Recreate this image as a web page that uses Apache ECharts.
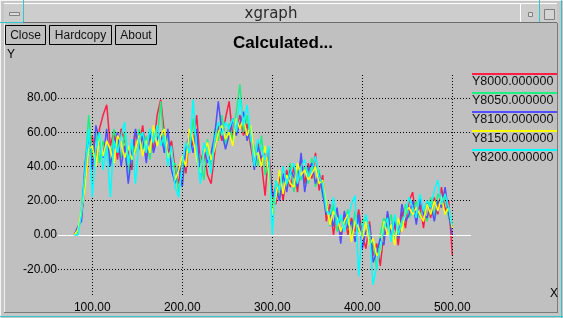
<!DOCTYPE html>
<html>
<head>
<meta charset="utf-8">
<script src="https://cdn.jsdelivr.net/npm/echarts@6/dist/echarts.min.js"></script>
<style>
html,body{margin:0;padding:0;background:#c0c0c0;}
#c{width:563px;height:318px;}
</style>
</head>
<body>
<div id="c"></div>
<script>
// ---- data ----
var xs = [80,84,88,92,96,100,104,108,112,116,
  120,124,128,132,136,140,144,148,152,156,
  160,164,168,172,176,180,184,188,192,196,
  200,204,208,212,216,220,224,228,232,236,
  240,244,248,252,256,260,264,268,272,276,
  280,284,288,292,296,300,304,308,312,316,
  320,324,328,332,336,340,344,348,352,356,
  360,364,368,372,376,380,384,388,392,396,
  400,404,408,412,416,420,424,428,432,436,
  440,444,448,452,456,460,464,468,472,476,
  480,484,488,492,496,500];

var y8000 = [0,4,10,30,48,58,45,62,70,76,
  52,60,44,62,55,48,38,60,52,64,
  45,58,50,70,79,60,48,55,38,30,
  45,36,60,52,70,42,50,35,30,48,
  64,55,68,78,58,62,70,58,65,52,
  40,55,42,23,50,25,18,35,20,38,
  28,40,25,45,30,42,33,48,26,35,
  8,18,0,14,-2,12,0,10,2,15,
  0,-8,8,-12,-5,-18,2,12,-2,6,
  -6,14,4,20,25,8,18,4,20,10,
  22,12,28,14,20,-12];

var y8050 = [0,2,15,40,70,45,60,42,55,48,
  40,62,52,45,60,35,55,48,62,50,
  58,44,62,55,78,50,58,40,42,25,
  38,50,48,68,50,45,32,56,40,62,
  55,70,52,65,55,72,88,60,70,55,
  52,40,58,35,42,15,30,22,32,28,
  42,25,38,32,40,30,45,28,38,22,
  20,5,18,2,10,6,15,-2,14,2,
  8,10,-5,-4,-20,0,10,4,12,-4,
  8,4,18,10,14,20,10,16,8,22,
  10,24,20,22,10,5];

var y8100 = [0,5,8,42,58,38,64,55,45,62,
  40,52,60,40,52,30,48,62,50,58,
  42,60,48,56,60,48,62,38,30,40,
  28,52,58,48,62,32,50,42,48,58,
  78,60,50,58,68,58,65,72,55,62,
  38,52,45,48,38,22,28,20,36,25,
  38,34,28,48,25,38,42,30,36,24,
  12,14,5,16,-5,14,4,8,-4,12,
  -8,2,6,-16,-10,-2,-6,14,0,8,
  -2,18,8,12,20,6,22,12,10,18,
  8,20,16,28,12,0];

var y8150 = [0,3,14,28,50,52,40,58,46,55,
  50,42,58,54,45,52,44,50,58,46,
  55,48,64,52,58,62,45,50,32,38,
  46,40,62,56,44,36,48,54,44,50,
  60,64,56,60,52,68,62,68,58,64,
  46,48,40,52,36,12,22,38,24,35,
  30,28,42,35,38,32,36,40,30,32,
  18,6,14,10,2,8,12,-4,8,4,
  -2,8,-6,-2,-12,-10,8,0,6,-6,
  10,2,14,16,12,16,12,8,18,12,
  20,14,22,12,16,4];

var y8200 = [0,0,12,38,62,22,50,60,38,52,
  22,55,48,58,66,42,56,30,56,60,
  48,62,54,64,52,58,40,52,28,22,
  42,54,48,79,50,30,54,48,36,56,
  66,58,66,62,68,60,80,64,76,58,
  40,56,50,44,52,0,32,26,40,30,
  36,42,30,40,44,34,38,46,34,30,
  14,12,22,6,12,2,10,18,23,-24,
  4,12,2,-29,-18,-8,4,10,-4,12,
  0,8,12,22,16,10,24,14,20,16,
  26,32,18,24,16,6];

var seriesNames = ['Y8000.000000','Y8050.000000','Y8100.000000','Y8150.000000','Y8200.000000'];
var seriesValues = [y8000, y8050, y8100, y8150, y8200];
var xTicks = [100,200,300,400,500];
var yTicks = [-20,0,20,40,60,80];

// ---- styling ----
var colors = ['#ff1f45','#1fef80','#5050ff','#ffff00','#00ffff'];
var FONT = 'Liberation Sans, Arial, sans-serif';

var chart = echarts.init(document.getElementById('c'), null, {renderer:'canvas'});

var series = [];
// grid lines as a background mark layer
var gridLines = [];
xTicks.forEach(function(v){ gridLines.push({xAxis:v}); });
yTicks.forEach(function(v){
  if (v === 0) gridLines.push({yAxis:v, lineStyle:{color:'#ffffff', type:'solid', width:1}});
  else gridLines.push({yAxis:v});
});
series.push({
  type:'line', data:[], z:1, silent:true,
  markLine:{silent:true, symbol:'none', animation:false, label:{show:false},
    lineStyle:{color:'#000', type:[1,2], width:1}, emphasis:{disabled:true},
    data:gridLines}
});
seriesNames.forEach(function(n, k){
  series.push({
    name:n, type:'line', z:2+k, showSymbol:false, symbol:'none', animation:false,
    lineStyle:{color:colors[k], width:1.5}, itemStyle:{color:colors[k]},
    data: xs.map(function(x,i){ return [x, seriesValues[k][i]]; })
  });
});

// window chrome + legend as graphics
var g = [];
// outer frame
g.push({type:'rect', shape:{x:0,y:0,width:563,height:318}, style:{fill:'#c6c6c6'}, z:-10});
g.push({type:'line', shape:{x1:0,y1:0.5,x2:563,y2:0.5}, style:{stroke:'#f4f4f4',lineWidth:1}, z:-9});
g.push({type:'line', shape:{x1:0.5,y1:0,x2:0.5,y2:318}, style:{stroke:'#f4f4f4',lineWidth:1}, z:-9});
// title bar
g.push({type:'rect', shape:{x:4,y:3,width:553,height:19}, style:{fill:'#cdcdcd'}, z:-9});
g.push({type:'line', shape:{x1:4,y1:3.5,x2:557,y2:3.5}, style:{stroke:'#ffffff',lineWidth:1}, z:-8});
g.push({type:'line', shape:{x1:4,y1:22.5,x2:557,y2:22.5}, style:{stroke:'#6e6e6e',lineWidth:1}, z:-8});
g.push({type:'line', shape:{x1:23.5,y1:0,x2:23.5,y2:22}, style:{stroke:'#30c8c8',lineWidth:1}, z:-7});
g.push({type:'line', shape:{x1:0,y1:22.5,x2:23,y2:22.5}, style:{stroke:'#30c8c8',lineWidth:1}, z:-7});
g.push({type:'line', shape:{x1:520.5,y1:3,x2:520.5,y2:22}, style:{stroke:'#ffffff',lineWidth:1}, z:-7});
g.push({type:'line', shape:{x1:539.5,y1:0,x2:539.5,y2:22}, style:{stroke:'#30c8c8',lineWidth:1}, z:-7});
g.push({type:'rect', shape:{x:9.5,y:12.5,width:10,height:3}, style:{fill:'#dcdcdc',stroke:'#808080',lineWidth:1}, z:-7});
g.push({type:'rect', shape:{x:528.5,y:12.5,width:4,height:4}, style:{fill:'#dcdcdc',stroke:'#808080',lineWidth:1}, z:-7});
g.push({type:'rect', shape:{x:544.5,y:9.5,width:10,height:10}, style:{fill:'#d4d4d4',stroke:'#808080',lineWidth:1}, z:-7});
g.push({type:'text', x:271, y:14, style:{text:'xgraph', font:'15px DejaVu Sans, sans-serif', fill:'#2a2a2a', textAlign:'center', textVerticalAlign:'middle'}, z:-6});
// client area
g.push({type:'rect', shape:{x:4,y:23,width:553,height:290}, style:{fill:'#c0c0c0'}, z:-8});
g.push({type:'line', shape:{x1:4.5,y1:23,x2:4.5,y2:313}, style:{stroke:'#f0f0f0',lineWidth:1}, z:-7});
g.push({type:'line', shape:{x1:557.5,y1:23,x2:557.5,y2:313}, style:{stroke:'#7a7a7a',lineWidth:1}, z:-7});
g.push({type:'line', shape:{x1:4,y1:312.5,x2:558,y2:312.5}, style:{stroke:'#7a7a7a',lineWidth:1}, z:-7});
g.push({type:'line', shape:{x1:561.5,y1:0,x2:561.5,y2:318}, style:{stroke:'#30c8c8',lineWidth:1}, z:-7});
g.push({type:'line', shape:{x1:0,y1:316.5,x2:563,y2:316.5}, style:{stroke:'#30c8c8',lineWidth:1}, z:-7});
// buttons
var buttons = [['Close',5.5,40],['Hardcopy',49.5,62],['About',115.5,41]];
buttons.forEach(function(b){
  g.push({type:'rect', shape:{x:b[1],y:25.5,width:b[2],height:19}, style:{fill:'#c0c0c0',stroke:'#000',lineWidth:1}, z:-5});
  g.push({type:'text', x:b[1]+b[2]/2, y:35.5, style:{text:b[0], font:'12px '+FONT, fill:'#111', textAlign:'center', textVerticalAlign:'middle'}, z:-4});
});
// title + axis names
g.push({type:'text', x:283, y:43, style:{text:'Calculated...', font:'bold 17px '+FONT, fill:'#000', textAlign:'center', textVerticalAlign:'middle'}, z:-4});
g.push({type:'text', x:7, y:55, style:{text:'Y', font:'12px '+FONT, fill:'#000', textAlign:'left', textVerticalAlign:'middle'}, z:-4});
g.push({type:'text', x:550, y:294, style:{text:'X', font:'12px '+FONT, fill:'#000', textAlign:'left', textVerticalAlign:'middle'}, z:-4});
// legend
seriesNames.forEach(function(n,k){
  var yy = 74 + 19*k;
  g.push({type:'line', shape:{x1:472,y1:yy,x2:557,y2:yy}, style:{stroke:colors[k],lineWidth:2}, z:-3});
  g.push({type:'text', x:472, y:yy+7.5, style:{text:n, font:'12.5px '+FONT, fill:'#111', textAlign:'left', textVerticalAlign:'middle'}, z:-3});
});

chart.setOption({
  animation:false,
  backgroundColor:'#c0c0c0',
  graphic:{elements:g},
  grid:{left:58, top:74, width:413, height:221, show:false},
  xAxis:{type:'value', min:61.89, max:520.78,
    axisLine:{show:false}, axisTick:{show:false}, splitLine:{show:false},
    axisLabel:{customValues:xTicks, margin:7, color:'#000', fontSize:12, fontFamily:FONT,
      formatter:function(v){ return Number(v).toFixed(2); }}},
  yAxis:{type:'value', min:-35.04, max:94.0,
    axisLine:{show:false}, axisTick:{show:false}, splitLine:{show:false},
    axisLabel:{customValues:yTicks, margin:1, color:'#000', fontSize:12, fontFamily:FONT,
      formatter:function(v){ return Number(v).toFixed(2); }}},
  series:series
});
</script>
</body>
</html>
